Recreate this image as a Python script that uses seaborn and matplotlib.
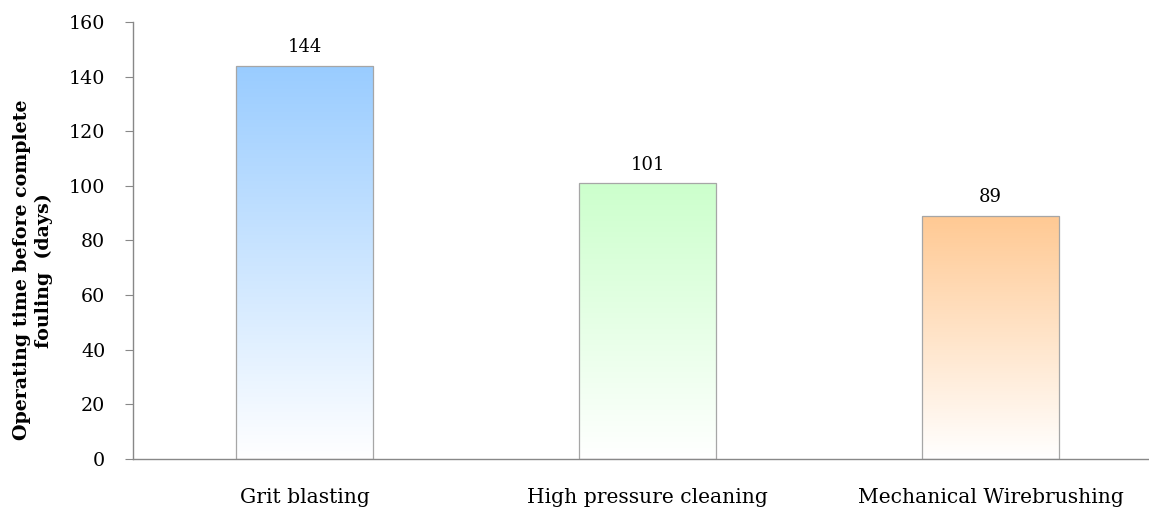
import numpy as np
import pandas as pd
import seaborn as sns
import matplotlib.pyplot as plt
from matplotlib.colors import LinearSegmentedColormap

# Data
methods = ["Grit blasting", "High pressure cleaning", "Mechanical Wirebrushing"]
days = [144, 101, 89]
top_colors = ["#99CCFF", "#CCFFCC", "#FFC993"]

sns.set_style("white")
plt.rcParams['font.family'] = ['DejaVu Serif']
plt.rcParams['text.color'] = 'black'
plt.rcParams['axes.labelcolor'] = 'black'
plt.rcParams['xtick.labelcolor'] = 'black'
plt.rcParams['ytick.labelcolor'] = 'black'

df = pd.DataFrame({"method": methods, "days": days})

fig = plt.figure(figsize=(11.49, 5.07), dpi=100)
ax = fig.add_axes([0.1158, 0.0947, 0.8956, 0.8619])

sns.barplot(data=df, x="method", y="days", ax=ax, width=0.4,
            color="white", edgecolor="#A6A6A6", linewidth=0.9)

# gradient fill inside each bar: colour at the top fading to white at the base
grad = np.linspace(0, 1, 256).reshape(-1, 1)
for patch, col in zip(ax.patches, top_colors):
    x0, y0 = patch.get_x(), patch.get_y()
    w, h = patch.get_width(), patch.get_height()
    cmap = LinearSegmentedColormap.from_list("g", ["#FFFFFF", col])
    im = ax.imshow(grad, cmap=cmap, aspect="auto", origin="lower",
                   extent=[x0, x0 + w, y0, y0 + h], zorder=patch.get_zorder() - 0.1)
    im.set_clip_path(patch)
    patch.set_facecolor("none")
    ax.text(x0 + w / 2, h + 3.5, f"{h:.0f}", ha="center", va="bottom",
            fontsize=13, color="black")

ax.set_xlim(-0.5, 2.5)
ax.set_ylim(0, 160)
ax.set_yticks(range(0, 161, 20))
ax.set_xticks([-0.5, 0.5, 1.5, 2.5], minor=False)
ax.set_xticklabels([])
ax.set_xticks([0, 1, 2], minor=True)
ax.set_xticklabels(methods, minor=True, fontsize=14.6)
ax.tick_params(axis="x", which="minor", length=0, pad=21)
ax.tick_params(axis="x", which="major", length=6, color="#888888", direction="out")
ax.tick_params(axis="y", length=6, color="#888888", labelsize=13.7, pad=14, left=True)
ax.set_xlabel("")
ax.set_ylabel("Operating time before complete\nfouling  (days)", fontsize=13.7,
              fontweight="bold", linespacing=1.25)
ax.yaxis.label.set_va("center")
ax.yaxis.set_label_coords(-0.097, 0.432)

sns.despine(ax=ax)
for side in ["left", "bottom"]:
    ax.spines[side].set_color("#888888")
    ax.spines[side].set_linewidth(1.0)

fig.savefig("out.png", dpi=100)
